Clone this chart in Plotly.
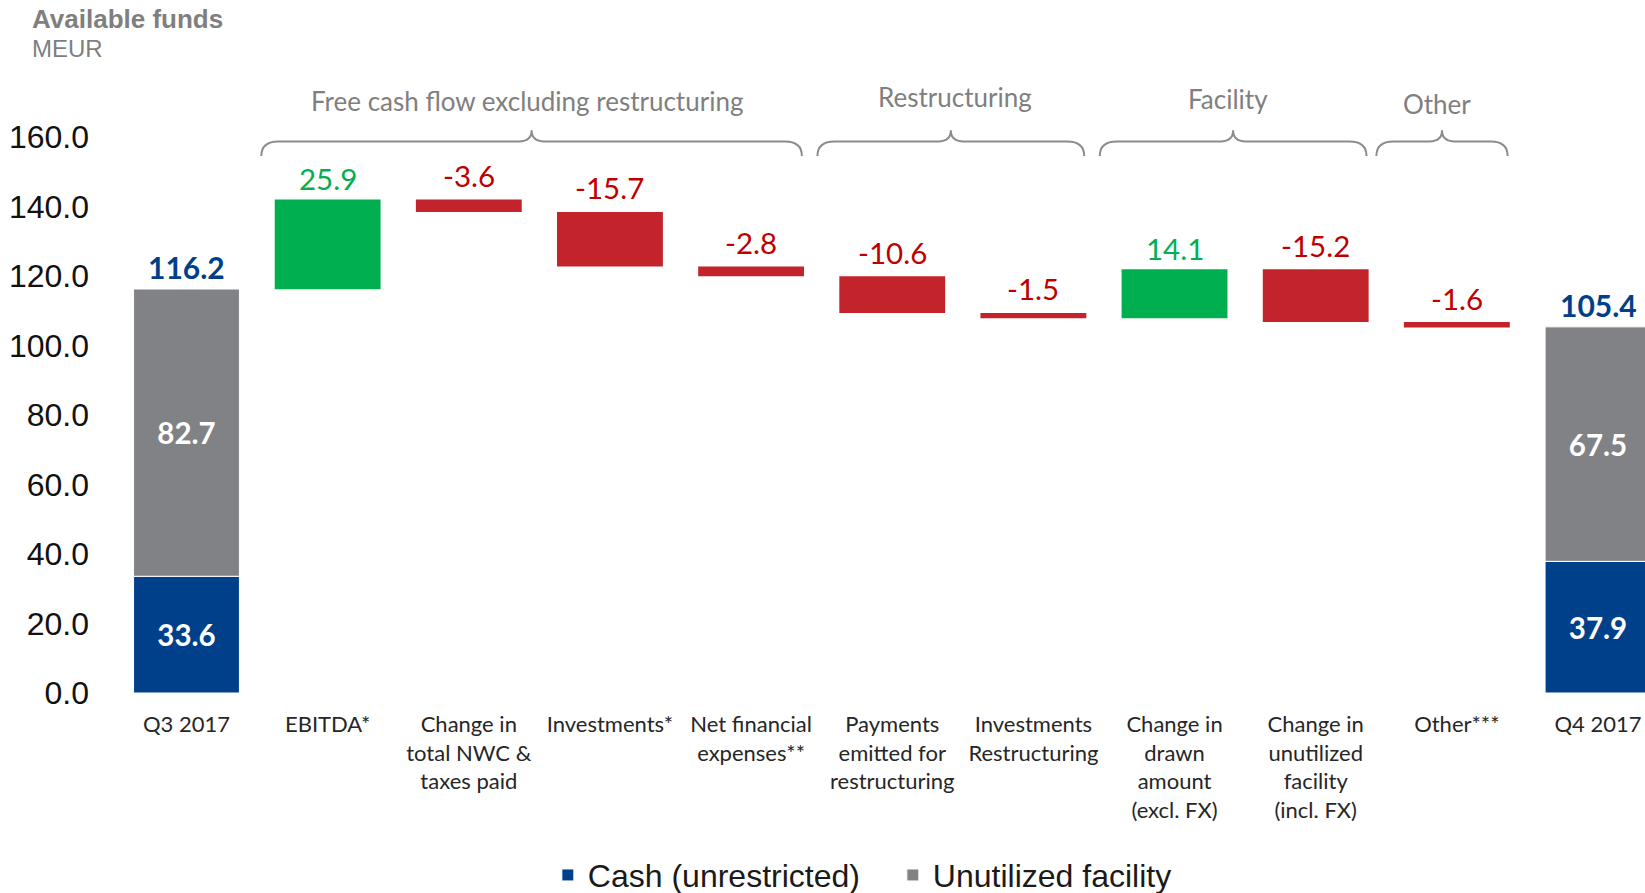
import plotly.graph_objects as go

# categories along the x axis
categories = ["Q3 2017", "EBITDA*", "Change in<br>total NWC &<br>taxes paid", "Investments*",
              "Net financial<br>expenses**", "Payments<br>emitted for<br>restructuring",
              "Investments<br>Restructuring", "Change in<br>drawn<br>amount<br>(excl. FX)",
              "Change in<br>unutilized<br>facility<br>(incl. FX)", "Other***", "Q4 2017"]

# opening / closing position (Q3 2017, Q4 2017)
cash = [33.6, 37.9]
unutilized = [82.7, 67.5]
totals = [116.2, 105.4]

# bridge items between them
changes = [25.9, -3.6, -15.7, -2.8, -10.6, -1.5, 14.1, -15.2, -1.6]

# groups shown with braces above the bars
groups = ["Free cash flow excluding restructuring", "Restructuring", "Facility", "Other"]
# layout of the braces and their titles, in axis units
brace_spans = [(0.53, 4.36), (4.47, 6.36), (6.47, 8.36), (8.43, 9.36)]
group_label_x = [2.415, 5.445, 7.38, 8.86]
group_label_y = [170.3, 171.5, 170.9, 169.7]

BLUE = "#00408A"
GREY = "#808285"
GREEN = "#00B050"
RED = "#C3232B"
LABEL_FONT = "Lato"
ARIAL = "Liberation Sans, Arial"

x_pos = list(range(len(categories)))
ends = [x_pos[0], x_pos[-1]]
steps = x_pos[1:-1]

# running level for the floating bars
levels = [totals[0]]
for c in changes:
    levels.append(levels[-1] + c)
bases = levels[:-1]

fig = go.Figure()

fig.add_trace(go.Bar(
    x=ends, y=cash, base=[0, 0], name="Cash (unrestricted)",
    marker=dict(color=BLUE, line=dict(color="white", width=1)),
    text=[f"{v:.1f}" for v in cash], textposition="inside", insidetextanchor="middle",
    textangle=0, textfont=dict(family=LABEL_FONT, size=29.5, color="white", weight="bold"),
    width=0.75,
))
fig.add_trace(go.Bar(
    x=ends, y=unutilized, base=cash, name="Unutilized facility",
    marker=dict(color=GREY, line=dict(color="white", width=1)),
    text=[f"{v:.1f}" for v in unutilized], textposition="inside", insidetextanchor="middle",
    textangle=0, textfont=dict(family=LABEL_FONT, size=29.5, color="white", weight="bold"),
    width=0.75,
))
fig.add_trace(go.Bar(
    x=steps, y=changes, base=bases, showlegend=False,
    marker=dict(color=[GREEN if c > 0 else RED for c in changes], line=dict(width=0)),
    width=0.75, hoverinfo="skip",
))

annotations = []
# value labels above the floating bars
for xi, b, c in zip(steps, bases, changes):
    annotations.append(dict(
        x=xi, y=max(b, b + c), xref="x", yref="y", text=f"{c:.1f}", showarrow=False,
        yanchor="middle", yshift=21 if c > 0 else 24,
        font=dict(family=LABEL_FONT, size=29.5, color=GREEN if c > 0 else "#C00000"),
    ))
# totals above the stacked bars
for xi, t in zip(ends, totals):
    annotations.append(dict(
        x=xi, y=t, xref="x", yref="y", text=f"<b>{t:.1f}</b>", showarrow=False,
        yanchor="middle", yshift=22,
        font=dict(family=LABEL_FONT, size=30, color=BLUE),
    ))

# braces with group names
shapes = []
y_low, y_mid, y_top = 154.6, 158.8, 162.0
r, p = 0.12, 0.09
for name, (x0, x1), lx, ly in zip(groups, brace_spans, group_label_x, group_label_y):
    xc = (x0 + x1) / 2
    path = (f"M {x0},{y_low} Q {x0},{y_mid} {x0 + r},{y_mid} L {xc - p},{y_mid} "
            f"Q {xc},{y_mid} {xc},{y_top} Q {xc},{y_mid} {xc + p},{y_mid} "
            f"L {x1 - r},{y_mid} Q {x1},{y_mid} {x1},{y_low}")
    shapes.append(dict(type="path", path=path, xref="x", yref="y",
                       line=dict(color="#8C8C8C", width=2)))
    annotations.append(dict(
        x=lx, y=ly, xref="x", yref="y", text=name, showarrow=False,
        font=dict(family=LABEL_FONT, size=26, color="#7F7F7F"),
    ))

# title
annotations.append(dict(
    x=-0.052, y=1.021, xref="paper", yref="paper", text="<b>Available funds</b>",
    showarrow=False, xanchor="left", yanchor="middle",
    font=dict(family=ARIAL, size=26, color="#7F7F7F"),
))
annotations.append(dict(
    x=-0.052, y=0.977, xref="paper", yref="paper", text="MEUR",
    showarrow=False, xanchor="left", yanchor="middle",
    font=dict(family=ARIAL, size=24, color="#7F7F7F"),
))

fig.update_layout(
    width=1645, height=893,
    margin=dict(l=110, r=0, t=33, b=200, autoexpand=False),
    barmode="overlay",
    plot_bgcolor="white", paper_bgcolor="white",
    shapes=shapes, annotations=annotations,
    showlegend=True,
    legend=dict(orientation="h", x=0.51, xanchor="center", y=-0.276, yanchor="middle",
                font=dict(family=ARIAL, size=32, color="#1A1A1A"), itemwidth=30,
                entrywidth=300, traceorder="normal"),
    xaxis=dict(range=[-0.542, 10.333], tickvals=x_pos, ticktext=categories,
               showgrid=False, zeroline=False, showline=False, ticks="", automargin=False,
               tickfont=dict(family=LABEL_FONT, size=22, color="#262626"),
               ticklabelstandoff=16),
    yaxis=dict(range=[0, 190], tickvals=[0, 20, 40, 60, 80, 100, 120, 140, 160],
               tickformat=".1f", showgrid=False, zeroline=False, showline=False, ticks="",
               automargin=False,
               tickfont=dict(family=ARIAL, size=32, color="#111111"),
               ticklabelstandoff=20),
)

# drop the default body margin so the figure fills the window exactly
fig.write_html("out.html", config={"displayModeBar": False},
               post_script="document.body.style.margin='0';document.body.style.overflow='hidden';")
